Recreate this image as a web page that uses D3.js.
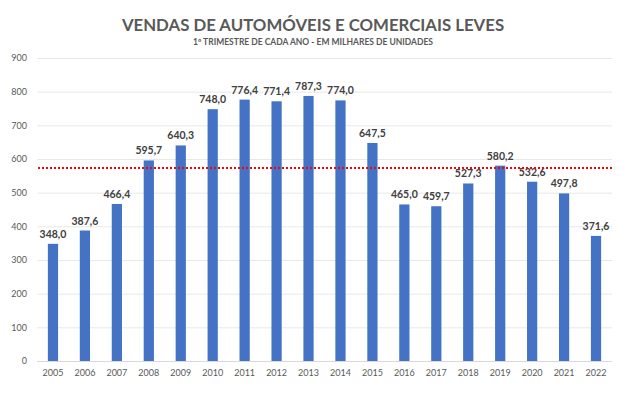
<!DOCTYPE html>
<html>
<head>
<meta charset="utf-8">
<script src="https://cdn.jsdelivr.net/npm/d3@7"></script>
<style>
  body { margin: 0; background: #fff; }
  text { font-family: Lato, "Open Sans", sans-serif; }
</style>
</head>
<body>
<div id="vis"></div>
<script>
// Data
var years = ["2005", "2006", "2007", "2008", "2009", "2010", "2011", "2012", "2013",
             "2014", "2015", "2016", "2017", "2018", "2019", "2020", "2021", "2022"];
var sales = [348.0, 387.6, 466.4, 595.7, 640.3, 748.0, 776.4, 771.4, 787.3,
             774.0, 647.5, 465.0, 459.7, 527.3, 580.2, 532.6, 497.8, 371.6];
var yTicks = [0, 100, 200, 300, 400, 500, 600, 700, 800, 900];
var refLine = 573; // red dotted line

var width = 639,
    height = 393,
    margin = { top: 58, right: 27, bottom: 32, left: 37 },
    drawWidth = width - margin.left - margin.right,
    drawHeight = height - margin.top - margin.bottom;

var data = years.map(function(y, i) { return { year: y, value: sales[i] }; });

var svg = d3.select("#vis").append("svg")
    .attr("width", width)
    .attr("height", height);

svg.append("text")
    .attr("x", 313).attr("y", 31)
    .attr("text-anchor", "middle")
    .style("font-size", "16.8px").style("font-weight", "bold")
    .style("fill", "#595959")
    .text("VENDAS DE AUTOMÓVEIS E COMERCIAIS LEVES");

svg.append("text")
    .attr("x", 313).attr("y", 45)
    .attr("text-anchor", "middle")
    .style("font-size", "8.5px").style("font-weight", "bold")
    .style("fill", "#595959")
    .text("1º TRIMESTRE DE CADA ANO - EM MILHARES DE UNIDADES");

var g = svg.append("g")
    .attr("transform", "translate(" + margin.left + "," + margin.top + ")");

var x = d3.scaleBand()
    .domain(years)
    .range([0, drawWidth])
    .paddingInner(0.68)
    .paddingOuter(0.34);

var y = d3.scaleLinear()
    .domain([0, 900])
    .range([drawHeight, 0]);

// gridlines
g.selectAll(".grid")
    .data(yTicks)
    .enter().append("line")
    .attr("class", "grid")
    .attr("x1", 0).attr("x2", drawWidth)
    .attr("y1", function(d) { return y(d) + 0.5; })
    .attr("y2", function(d) { return y(d) + 0.5; })
    .style("stroke", function(d) { return d === 0 ? "#d9d9d9" : "#e8e8e8"; })
    .style("stroke-width", 1);

var yAxis = d3.axisLeft(y).tickValues(yTicks).tickSize(0).tickPadding(10);
var gy = g.append("g").call(yAxis);
gy.select(".domain").remove();
gy.selectAll("text").style("font-size", "9px").style("fill", "#595959");

var xAxis = d3.axisBottom(x).tickSize(0).tickPadding(9);
var gx = g.append("g")
    .attr("transform", "translate(0," + drawHeight + ")")
    .call(xAxis);
gx.select(".domain").remove();
gx.selectAll("text").style("font-size", "9px").style("fill", "#595959");

// bars
g.selectAll(".bar")
    .data(data)
    .enter().append("rect")
    .attr("class", "bar")
    .attr("x", function(d) { return x(d.year); })
    .attr("width", x.bandwidth())
    .attr("y", function(d) { return y(d.value); })
    .attr("height", function(d) { return drawHeight - y(d.value); })
    .style("fill", "#4472c4");

// value labels
g.selectAll(".label")
    .data(data)
    .enter().append("text")
    .attr("class", "label")
    .attr("x", function(d) { return x(d.year) + x.bandwidth() / 2; })
    .attr("y", function(d) { return y(d.value) - 6; })
    .attr("text-anchor", "middle")
    .style("font-size", "10.5px").style("font-weight", "bold")
    .style("fill", "#404040")
    .text(function(d) { return d3.format(".1f")(d.value).replace(".", ","); });

// red dotted line
g.append("line")
    .attr("x1", 1).attr("x2", drawWidth)
    .attr("y1", y(refLine)).attr("y2", y(refLine))
    .style("stroke", "#ff0000")
    .style("stroke-width", 2)
    .style("stroke-dasharray", "2,2");
</script>
</body>
</html>
